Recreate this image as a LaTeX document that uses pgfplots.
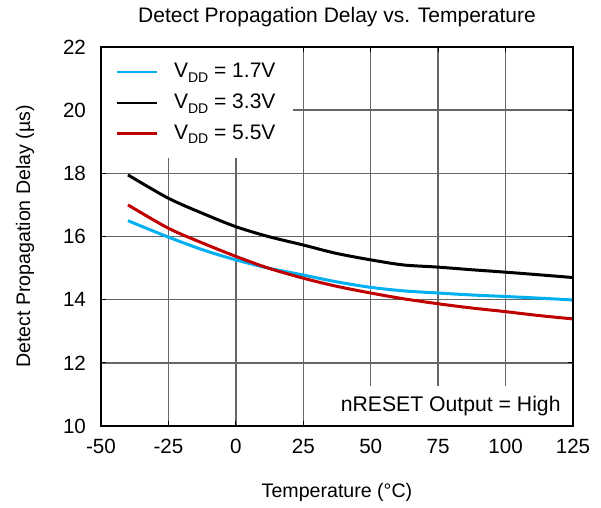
\documentclass[border=0pt]{standalone}
\usepackage{fontspec}
\setmainfont{Liberation Sans}
\usepackage{pgfplots}
\pgfplotsset{compat=1.18}
\usetikzlibrary{calc}
\definecolor{cblue}{RGB}{0,176,240}
\definecolor{cred}{RGB}{192,0,0}
\newcommand{\vdd}{V\raisebox{-0.4ex}{\fontsize{7}{8}\selectfont DD}}
\begin{document}
\begin{tikzpicture}
\begin{axis}[
  name=ax,
  scale only axis,
  width=236pt, height=189.5pt,
  xmin=-50, xmax=125, ymin=10, ymax=22,
  xtick={-50,-25,0,25,50,75,100,125},
  ytick={10,12,14,16,18,20,22},
  grid=major,
  major grid style={line width=0.7pt, black!60},
  axis line style={line width=1pt, black},
  tick style={line width=0.6pt, black},
  tick align=inside,
  major tick length=2.5pt,
  font=\fontsize{10}{12}\selectfont,
  /pgf/number format/assume math mode=true,
  ticklabel style={font=\fontsize{10.3}{12}\selectfont},
  xticklabel style={yshift=-3pt},
  yticklabel style={xshift=-4pt},
  title={Detect Propagation Delay vs. Temperature},
  title style={at={(axis description cs:0.5,1.079)}, anchor=center, yshift=-6pt, font=\fontsize{10.5}{12}\selectfont},
  xlabel={Temperature (\textdegree C)},
  xlabel style={at={(axis description cs:0.5,-0.174)}, anchor=center, font=\fontsize{9.8}{12}\selectfont},
  ylabel={Detect Propagation Delay (\textmu s)},
  ylabel style={at={(axis description cs:-0.161,0.5)}, anchor=center, font=\fontsize{9.8}{12}\selectfont},
  legend style={at={(0,1)}, anchor=north west, draw=none, fill=white,
    font=\fontsize{10.5}{12}\selectfont, row sep=2.6pt, inner xsep=7pt, inner ysep=6pt},
  legend cell align=left,
  legend image code/.code={\draw[#1, line width=1.2pt] (0pt,0pt) -- (20pt,0pt); \path (26pt,0pt);},
  every axis plot/.append style={line width=1.5pt},
]
\addplot[cblue, smooth, tension=0.5] coordinates {
 (-40,16.50) (-25,15.98) (-12,15.57) (0,15.26) (12,15.00) (25,14.78) (37,14.57) (50,14.39) (62,14.28) (75,14.21) (87,14.15) (100,14.10) (112,14.05) (125,13.99)};
\addlegendentry{\vdd\ = 1.7V}
\addplot[black, smooth, tension=0.5] coordinates {
 (-40,17.95) (-25,17.21) (-12,16.72) (0,16.31) (12,16.00) (25,15.73) (37,15.47) (50,15.26) (62,15.10) (75,15.03) (87,14.95) (100,14.87) (112,14.79) (125,14.70)};
\addlegendentry{\vdd\ = 3.3V}
\addplot[cred, smooth, tension=0.5] coordinates {
 (-40,17.00) (-25,16.26) (-12,15.78) (0,15.37) (12,15.00) (25,14.68) (37,14.43) (50,14.21) (62,14.03) (75,13.87) (87,13.74) (100,13.62) (112,13.50) (125,13.39)};
\addlegendentry{\vdd\ = 5.5V}
\node[anchor=south east, fill=white, inner xsep=6pt, inner ysep=5pt, font=\fontsize{10.6}{12}\selectfont] at (rel axis cs:1,0) {nRESET Output = High};
\end{axis}
\draw[line width=1pt, black] (ax.south west) rectangle (ax.north east);
\path ($(ax.south west)+(-50.5pt,-40.5pt)$) rectangle ($(ax.north east)+(14pt,23.5pt)$);
\end{tikzpicture}
\end{document}
